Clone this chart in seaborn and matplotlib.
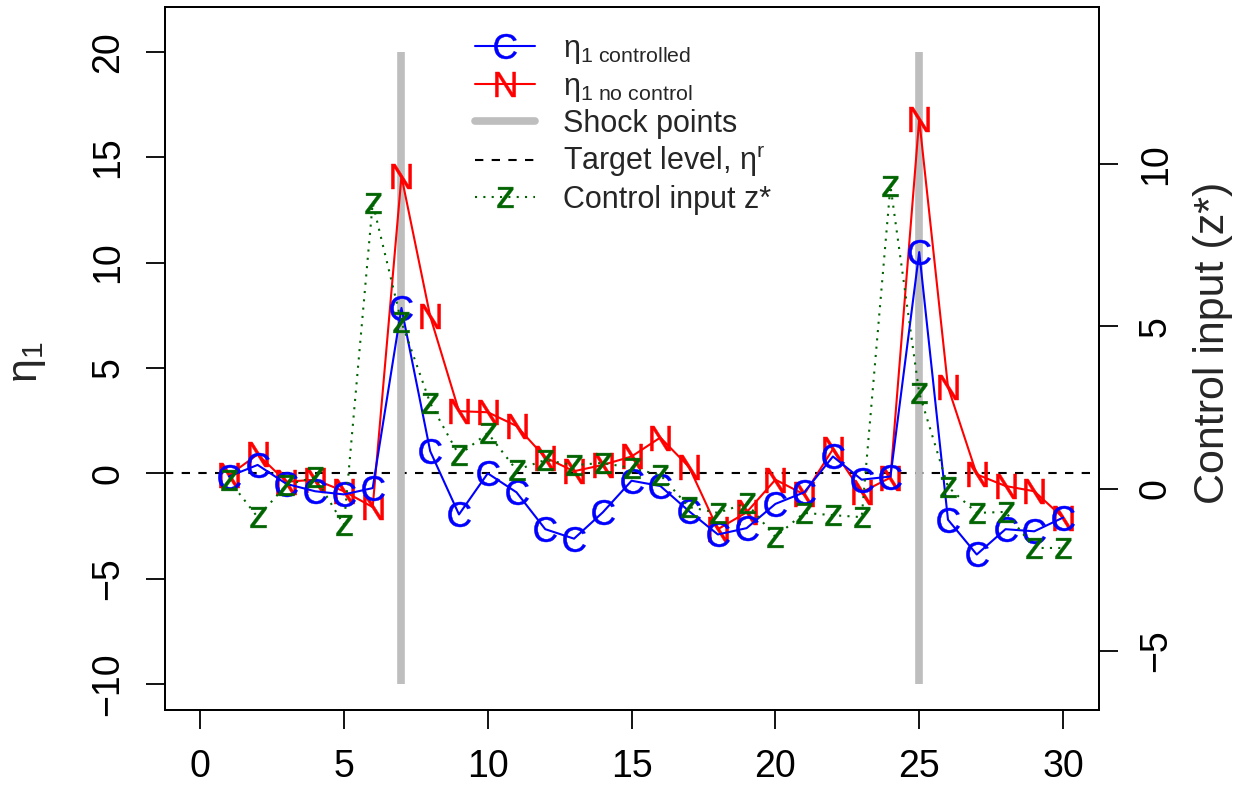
import matplotlib
matplotlib.use("Agg")
import matplotlib.pyplot as plt
import seaborn as sns
import pandas as pd
from matplotlib.lines import Line2D

# ---------------- data ----------------
t = list(range(1, 31))
eta_controlled = [-0.15, 0.4, -0.5, -0.85, -1.0, -0.7, 7.85, 1.05, -1.95, 0.0,
                  -0.9, -2.65, -3.1, -1.85, -0.35, -0.6, -1.8, -2.9, -2.6, -1.45,
                  -0.9, 0.8, -0.3, -0.15, 10.5, -2.2, -3.85, -2.65, -2.75, -2.1]
eta_no_control = [-0.1, 0.9, -0.4, -0.3, -0.85, -1.6, 14.1, 7.45, 2.95, 2.9,
                  2.25, 0.75, 0.1, 0.4, 0.8, 1.7, 0.3, -2.65, -1.85, -0.3,
                  -1.0, 1.15, -0.9, -0.2, 16.8, 4.1, -0.05, -0.6, -0.85, -2.1]
z_star = [0.26, -0.88, 0.11, 0.35, -1.12, 8.79, 5.13, 2.63, 1.03, 1.71,
          0.57, 0.88, 0.72, 0.79, 0.63, 0.42, -0.57, -0.75, -0.45, -1.49,
          -0.75, -0.82, -0.88, 9.32, 2.94, 0.05, -0.75, -0.72, -1.83, -1.83]
shock_points = [7, 25]
shock_range = [-10, 20]
target_level = 0
x_ticks = [0, 5, 10, 15, 20, 25, 30]
left_ticks = [-10, -5, 0, 5, 10, 15, 20]
right_ticks = [-5, 0, 5, 10]
legend_labels = [r"η$_{\mathrm{1\ controlled}}$", r"η$_{\mathrm{1\ no\ control}}$",
                 "Shock points", r"Target level, η$^{\mathrm{r}}$", "Control input z*"]

# ---------------- style ----------------
sns.set_style("ticks")
plt.rcParams["font.family"] = ["Liberation Sans", "DejaVu Sans"]
plt.rcParams["mathtext.fontset"] = "custom"
plt.rcParams["mathtext.rm"] = "Liberation Sans"
plt.rcParams["mathtext.it"] = "Liberation Sans:italic"
plt.rcParams["mathtext.bf"] = "Liberation Sans:bold"

TICK_FS = 27
LAB_FS = 31
LEG_FS = 22
GREEN = "#006400"
GRAY = "#BEBEBE"
MS_CN = 18
MS_Z = 15

df = pd.DataFrame({"t": t, "ctrl": eta_controlled, "noctrl": eta_no_control, "z": z_star})

fig = plt.figure(figsize=(12.48, 7.86), dpi=100)
ax = fig.add_axes([165 / 1248, 1 - 710 / 786, (1099 - 165) / 1248, (710 - 7) / 786])

# target level and shock points
ax.axhline(target_level, color="black", lw=1.5, ls=(0, (4, 4)), zorder=1)
ax.vlines(shock_points, shock_range[0], shock_range[1], color=GRAY, lw=5.5, zorder=2)

mk_c = r"$\mathrm{C}$"
mk_n = r"$\mathrm{N}$"
mk_z = r"$\mathrm{z}$"

sns.lineplot(data=df, x="t", y="ctrl", ax=ax, color="blue", lw=1.5, marker=mk_c,
             markersize=MS_CN, markerfacecolor="blue", markeredgecolor="blue",
             markeredgewidth=0.3, legend=False, zorder=4)
sns.lineplot(data=df, x="t", y="noctrl", ax=ax, color="red", lw=1.5, marker=mk_n,
             markersize=MS_CN, markerfacecolor="red", markeredgecolor="red",
             markeredgewidth=0.3, legend=False, zorder=3)

ax.set_xlim(-1.22, 31.25)
ax.set_ylim(-11.23, 22.13)
ax.set_xticks(x_ticks)
ax.set_yticks(left_ticks)
ax.set_xlabel("")
ax.set_ylabel(r"η$_{\mathrm{1}}$", fontsize=LAB_FS)
ax.yaxis.set_label_coords((48 - 165) / 934, 0.495)

ax2 = ax.twinx()
sns.lineplot(data=df, x="t", y="z", ax=ax2, color=GREEN, lw=1.5, ls=(0, (1, 3)),
             marker=mk_z, markersize=MS_Z, markerfacecolor=GREEN, markeredgecolor=GREEN,
             markeredgewidth=0.3, legend=False)
ax2.set_ylim(-6.82, 14.83)
ax2.set_yticks(right_ticks)
ax2.set_ylabel("Control input (z*)", fontsize=LAB_FS)
ax2.yaxis.set_label_coords((1193 - 165) / 934, 0.522)
ax2.set_xlim(-1.22, 31.25)

for a in (ax, ax2):
    for s in a.spines.values():
        s.set_visible(True)
        s.set_color("black")
        s.set_linewidth(1.3)
    a.tick_params(direction="out", length=14, width=1.3, labelsize=TICK_FS, pad=14,
                  colors="black")
plt.setp(ax.get_yticklabels(), rotation=90, va="center")
plt.setp(ax2.get_yticklabels(), rotation=90, va="center")

handles = [
    Line2D([], [], color="blue", lw=1.5, marker=mk_c, markersize=MS_CN,
           markerfacecolor="blue", markeredgecolor="blue", markeredgewidth=0.3),
    Line2D([], [], color="red", lw=1.5, marker=mk_n, markersize=MS_CN,
           markerfacecolor="red", markeredgecolor="red", markeredgewidth=0.3),
    Line2D([], [], color=GRAY, lw=5.5, solid_capstyle="round"),
    Line2D([], [], color="black", lw=1.5, ls=(0, (4, 4))),
    Line2D([], [], color=GREEN, lw=1.5, ls=(0, (1, 3)), marker=mk_z, markersize=MS_Z,
           markerfacecolor=GREEN, markeredgecolor=GREEN, markeredgewidth=0.3),
]
fig.legend(handles, legend_labels, loc="upper left",
           bbox_to_anchor=(475 / 1248, 1 - 34 / 786), frameon=False,
           fontsize=LEG_FS, handlelength=1.96, handletextpad=0.92,
           labelspacing=0.18, borderpad=0, borderaxespad=0, numpoints=1)

fig.savefig("out.png", dpi=100)
